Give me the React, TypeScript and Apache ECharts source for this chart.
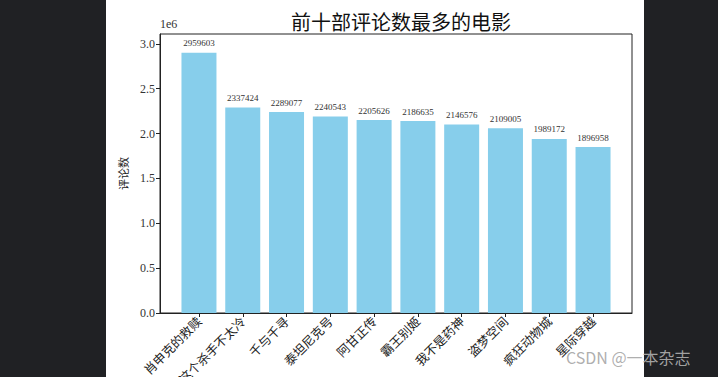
import React, { useEffect, useRef } from "react";
import * as echarts from "echarts";

const categories = ["肖申克的救赎", "这个杀手不太冷", "千与千寻", "泰坦尼克号", "阿甘正传", "霸王别姬", "我不是药神", "盗梦空间", "疯狂动物城", "星际穿越"];
const barValues = [2900000, 2290000, 2240000, 2190000, 2150000, 2140000, 2100000, 2060000, 1940000, 1850000];
const valueLabels = ["2959603", "2337424", "2289077", "2240543", "2205626", "2186635", "2146576", "2109005", "1989172", "1896958"];
const yTicks = [0, 500000, 1000000, 1500000, 2000000, 2500000, 3000000];

const CJK = '"Noto Sans CJK SC", sans-serif';
const SERIF = '"Liberation Serif", "DejaVu Serif", serif';

export default function App() {
  const ref = useRef<HTMLDivElement>(null);
  useEffect(() => {
    if (!ref.current) return;
    const chart = echarts.init(ref.current, undefined, { renderer: "svg" });
    const idx = categories.map((_, i) => i);
    chart.setOption({
      animation: false,
      backgroundColor: "transparent",
      title: {
        text: "前十部评论数最多的电影",
        left: 396,
        textAlign: "center",
        top: 6,
        textStyle: { fontFamily: CJK, fontSize: 20, fontWeight: "normal", color: "#111" },
      },
      grid: {
        left: 160, right: 86, top: 34, bottom: 64,
        outerBoundsMode: "none",
        containLabel: false,
        show: true, borderColor: "#222", borderWidth: 1, backgroundColor: "transparent",
      },
      xAxis: {
        type: "value",
        min: -0.89,
        max: 9.89,
        splitLine: { show: false },
        axisLine: { show: true, onZero: false, lineStyle: { color: "#222" } },
        axisTick: { show: true, customValues: idx, length: 4, lineStyle: { color: "#222" } },
        axisLabel: {
          customValues: idx,
          formatter: (v: number) => categories[Math.round(v)] ?? "",
          rotate: 45,
          margin: 6,
          fontFamily: CJK,
          fontSize: 12.5,
          color: "#222",
        },
      },
      yAxis: {
        type: "value",
        min: 0,
        max: 3110000,
        interval: 500000,
        name: "评论数",
        nameLocation: "middle",
        nameRotate: 90,
        nameGap: 32,
        nameTextStyle: { fontFamily: CJK, fontSize: 11, color: "#222" },
        splitLine: { show: false },
        axisLine: { show: true, onZero: false, lineStyle: { color: "#222" } },
        axisTick: { show: true, length: 4, customValues: yTicks, lineStyle: { color: "#222" } },
        axisLabel: {
          customValues: yTicks,
          formatter: (v: number) => (v / 1e6).toFixed(1),
          fontFamily: SERIF,
          fontSize: 12,
          color: "#333",
          margin: 5,
        },
      },
      series: [
        {
          type: "bar",
          barWidth: 35,
          itemStyle: { color: "#87CEEB" },
          data: barValues.map((v, i) => [i, v]),
          label: {
            show: true,
            position: "top",
            distance: 5,
            formatter: (p: any) => valueLabels[p.dataIndex],
            fontFamily: SERIF,
            fontSize: 9,
            color: "#333",
          },
        },
      ],
      graphic: [
        { type: "text", left: 160, top: 18, style: { text: "1e6", fontFamily: SERIF, fontSize: 12, fill: "#333" } },
        { type: "text", left: 566, top: 349, style: { text: "CSDN @一本杂志", fontFamily: CJK, fontSize: 16, fill: "rgba(170,170,170,0.95)" } },
      ],
    });
    return () => chart.dispose();
  }, []);
  return (
    <div style={{ position: "fixed", left: 0, top: 0, width: 718, height: 377, background: "#202124" }}>
      <div style={{ position: "absolute", left: 106, top: 0, width: 538, height: 377, background: "#ffffff" }} />
      <div ref={ref} style={{ position: "absolute", left: 0, top: 0, width: 718, height: 377 }} />
    </div>
  );
}
